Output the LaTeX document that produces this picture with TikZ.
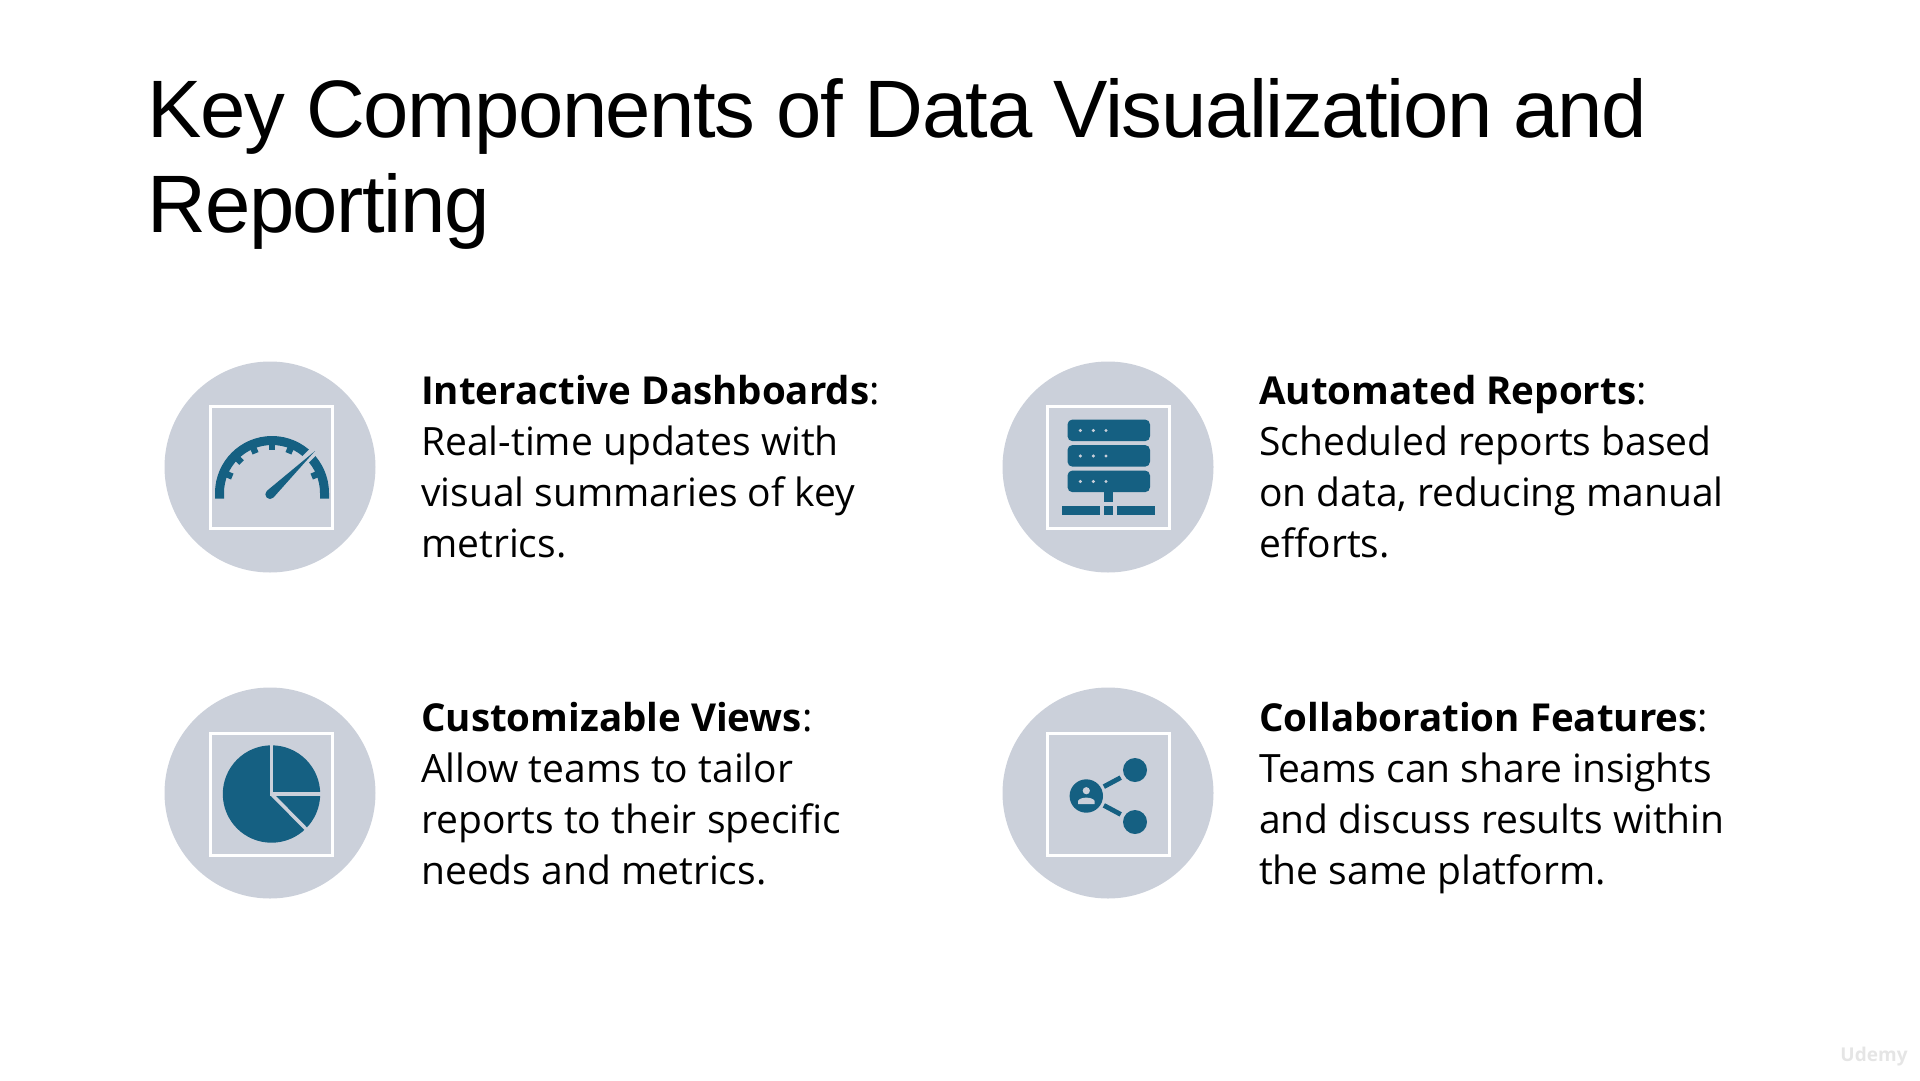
\documentclass[tikz,border=0pt]{standalone}
\usepackage{fontspec}
\setmainfont{Open Sans}
\newfontfamily\headfont[LetterSpace=-1.75]{Liberation Sans}
\usepackage{xcolor}
\definecolor{discGrey}{HTML}{CBD0DA}
\definecolor{iconBlue}{HTML}{156082}
\newcommand{\lead}[1]{{\bfseries\fontsize{38.5}{51}\selectfont #1}}
\tikzset{
disc/.style = {circle, fill=discGrey, minimum size=211pt, inner sep=0pt},
box/.style = {rectangle, draw=white, line width=3pt, minimum width=#1, minimum height=#1, inner sep=0pt},
box/.default = 122pt,
headText/.style = {anchor=north west, inner sep=0pt, align=left, font=\headfont\fontsize{81.5}{95}\selectfont},
bodyText/.style = {anchor=north west, inner sep=0pt, align=left, font=\fontsize{39}{51}\selectfont},
dot/.style = {circle, fill=iconBlue, inner sep=0pt, minimum size=#1},
}
\begin{document}
\begin{tikzpicture}[x=1pt,y=-1pt]
    \useasboundingbox (0,0) rectangle (1920,1080);

    \node[headText] (heading) at (147.5,78) {Key Components of Data Visualization and\\Reporting};

    \node[disc] (discA) at (270,467) {};
    \node[disc] (discB) at (1108,467) {};
    \node[disc] (discC) at (270,793) {};
    \node[disc] (discD) at (1108,793) {};

    \node[box] (boxA) at (271.5,467.5) {};
    \node[box] (boxB) at (1108.5,467.5) {};
    \node[box] (boxC) at (271.5,794.5) {};
    \node[box] (boxD) at (1108.5,794.5) {};

    \node[bodyText] (textA) at (421,375) {\lead{Interactive Dashboards}:\\Real-time updates with\\visual summaries of key\\metrics.};
    \node[bodyText] (textB) at (1259,375) {\lead{Automated Reports}:\\Scheduled reports based\\on data, reducing manual\\efforts.};
    \node[bodyText] (textC) at (421,702) {\lead{Customizable Views}:\\Allow teams to tailor\\reports to their specific\\needs and metrics.};
    \node[bodyText] (textD) at (1259,702) {\lead{Collaboration Features}:\\Teams can share insights\\and discuss results within\\the same platform.};

    % gauge
    \fill[iconBlue] (215,498.5) -- (215,493) arc[start angle=180,end angle=360,radius=57] -- (329,498.5) -- (320,498.5) -- (320,493) arc[start angle=360,end angle=180,radius=48] -- (224,498.5) -- cycle;
    \foreach \ang in {157.5,135,112.5,90,67.5,22.5}
        \fill[iconBlue, shift={(272,493)}, rotate=\ang] (43,-3.2) rectangle (49,3.2);
    \draw[discGrey, line width=9pt] (298,467) -- (324,441);
    \fill[iconBlue] (315,451) -- (273.3,497.7) arc[start angle=46,end angle=226,radius=4.7] -- cycle;

    % server
    \foreach \yy in {419.5,445,470.5} {
        \fill[iconBlue, rounded corners=5pt] (1067.5,\yy) rectangle (1150,\yy+21.7);
        \foreach \xx in {1080.3,1093.3,1106}
            \fill[discGrey] (\xx,\yy+11) circle[radius=1.7];
    }
    \fill[iconBlue] (1104,492) rectangle (1112.7,502.3);
    \fill[iconBlue] (1062,506) rectangle (1100,515);
    \fill[iconBlue] (1104,506) rectangle (1112.7,515);
    \fill[iconBlue] (1117,506) rectangle (1155,515);

    % pie
    \fill[iconBlue] (271.5,794) circle[radius=48.7];
    \draw[discGrey, line width=3.5pt] (271.5,744) -- (271.5,794) -- (322,794);
    \draw[discGrey, line width=3.5pt] (271.5,794) -- (307,830);

    % share
    \node[dot=33.4pt] (hubIcon) at (1086.3,796) {};
    \node[dot=24pt] (upperIcon) at (1135,770) {};
    \node[dot=24pt] (lowerIcon) at (1135,822) {};
    \draw[iconBlue, line width=4.8pt, shorten <=3pt, shorten >=4pt] (hubIcon) -- (upperIcon);
    \draw[iconBlue, line width=4.8pt, shorten <=3pt, shorten >=4pt] (hubIcon) -- (lowerIcon);
    \fill[discGrey] (1086.3,790.7) circle[radius=3.6];
    \fill[discGrey] (1078,804) -- (1078,801) .. controls (1080,796.5) and (1092.5,796.5) .. (1094.7,801) -- (1094.7,804) -- cycle;

    \node[inner sep=0pt, text=gray!20, font=\bfseries\fontsize{19}{19}\selectfont] (mark) at (1874,1057) {Udemy};
\end{tikzpicture}
\end{document}
